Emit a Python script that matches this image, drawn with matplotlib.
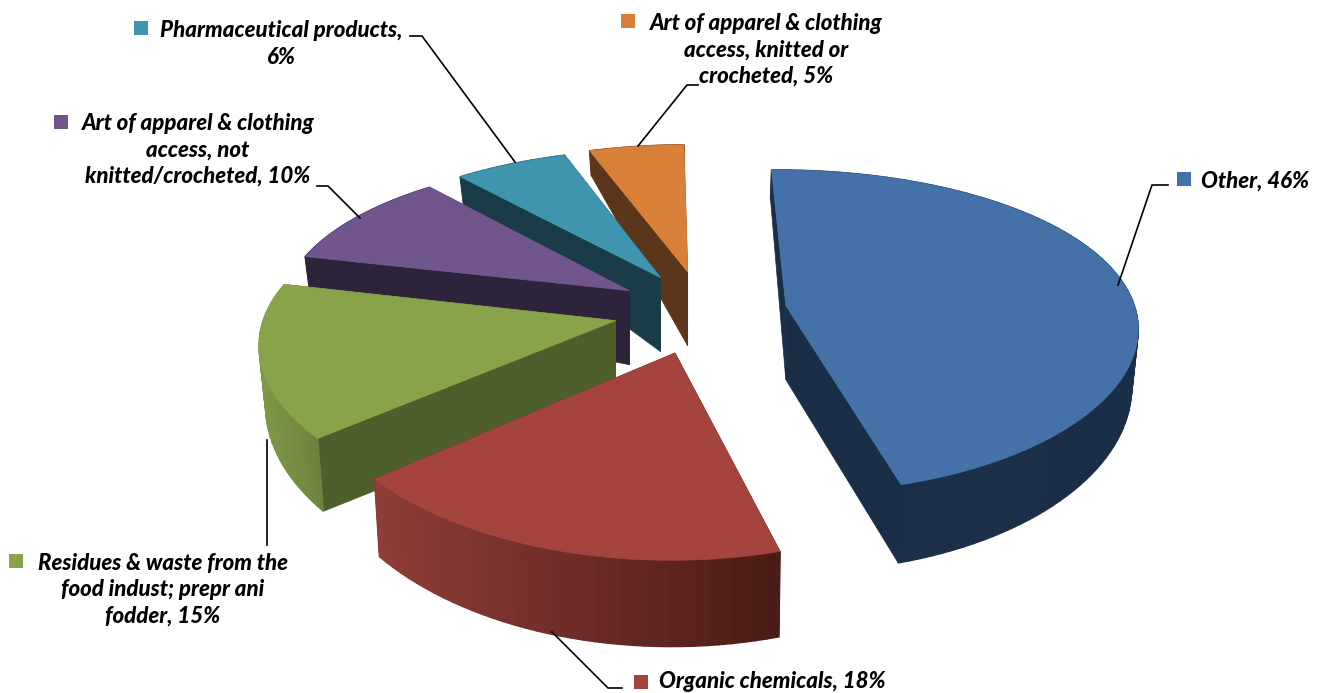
import numpy as np
import matplotlib
matplotlib.use("Agg")
import matplotlib.pyplot as plt
from matplotlib.colors import to_rgb

categories = ["Other", "Organic chemicals", "Residues & waste from the food indust; prepr ani fodder",
              "Art of apparel & clothing access, not knitted/crocheted", "Pharmaceutical products",
              "Art of apparel & clothing access, knitted or crocheted"]
values = [46, 18, 15, 10, 6, 5]
top_colors = ["#4472A8", "#A5443F", "#88A34A", "#70568D", "#3F94AE", "#D98038"]
cut_colors = ["#1B2E47", "#4F1D19", "#4F5F2C", "#2D233B", "#1A3C48", "#5C361A"]
arc_left = ["#1C3049", "#8F3D38", "#7F9846", "#2D233B", "#1A3C48", "#5C361A"]
arc_right = ["#1B2E47", "#4A1B17", "#6C8240", "#2D233B", "#1A3C48", "#5C361A"]
explode = [0.24, 0.265, 0.255, 0.25, 0.25, 0.26]
label_texts = [("Other, 46%", 1255, 181), ("Organic chemicals, 18%", 772, 682),
               ("Residues & waste from the\nfood indust; prepr ani\nfodder, 15%", 163, 590),
               ("Art of apparel & clothing\naccess, not\nknitted/crocheted, 10%", 198, 150),
               ("Pharmaceutical products,\n6%", 281, 44),
               ("Art of apparel & clothing\naccess, knitted or\ncrocheted, 5%", 766, 50)]
marker_pos = [(1184, 179), (641, 682), (16, 561), (61, 122), (141, 28), (628, 21)]
leaders = [[(1168, 185), (1152, 185), (1118, 285)], [(622, 688), (608, 688), (552, 632)],
           [(267, 545), (267, 440)], [(317, 186), (328, 186), (360, 218)],
           [(410, 36), (422, 36), (515, 162)], [(698, 85), (687, 85), (638, 146)]]

CX, CY, A, B, KX, KY, LEAN = 703, 311, 350, 159, 0.12, 0.16, 0.015
START = -1.0

plt.rcParams['font.family'] = ['Lato', 'DejaVu Sans']
fig = plt.figure(figsize=(13.17, 6.93), dpi=100)
ax = fig.add_axes([0, 0, 1, 1])
ax.set_xlim(0, 1317)
ax.set_ylim(693, 0)
ax.axis("off")


def project(X, Y):
    return CX + A * X / (1 - KX * Y), CY + B * Y / (1 - KY * Y)


def height(r, Y):
    outer = 55 + 25 * Y
    return 74 + (outer - 74) * r


def lean(x):
    return x + (CX - x) * LEAN


bounds = START + np.cumsum([0] + values) * 3.6
order = [5, 4, 3, 2, 0, 1]
for z, i in enumerate(order, start=1):
    a0, a1 = np.radians(bounds[i]), np.radians(bounds[i + 1])
    mid = (a0 + a1) / 2
    ox, oy = explode[i] * np.sin(mid), -explode[i] * np.cos(mid)
    th = np.linspace(a0, a1, int(values[i] * 2) + 2)
    ux, uy = np.sin(th), -np.cos(th)
    px, py = project(ox + ux, oy + uy)
    qx = lean(px)
    apx, apy = project(ox, oy)
    ah = height(0, oy)
    hs = height(1, oy + uy)
    # cut faces
    ax.fill([apx, px[0], qx[0], apx], [apy, py[0], py[0] + hs[0], apy + ah], color=cut_colors[i], lw=0.5, zorder=z)
    ax.fill([apx, px[-1], qx[-1], apx], [apy, py[-1], py[-1] + hs[-1], apy + ah], color=cut_colors[i], lw=0.5, zorder=z)
    # outer wall, shaded left to right
    cl, cr = np.array(to_rgb(arc_left[i])), np.array(to_rgb(arc_right[i]))
    xmin, xmax = px.min(), px.max()
    for j in range(len(th) - 1):
        f = ((px[j] + px[j + 1]) / 2 - xmin) / max(xmax - xmin, 1)
        ax.fill([px[j], px[j + 1], qx[j + 1], qx[j]],
                [py[j], py[j + 1], py[j + 1] + hs[j + 1], py[j] + hs[j]],
                color=cl + (cr - cl) * f, lw=1.0, zorder=z)
    # top face
    ax.fill(np.r_[apx, px], np.r_[apy, py], color=top_colors[i], lw=0.5, zorder=z)

for pts in leaders:
    xs, ys = zip(*pts)
    ax.plot(xs, ys, color="black", lw=1.2, zorder=20)
for (t, x, y), (mx, my), c in zip(label_texts, marker_pos, top_colors):
    ax.text(x, y, t, ha="center", va="center", fontsize=16, fontweight="black", fontstyle="italic",
            color="black", linespacing=1.33, zorder=21)
    ax.scatter([mx], [my], marker="s", s=90, color=c, zorder=21, linewidths=0)

fig.savefig("out.png", dpi=100)
